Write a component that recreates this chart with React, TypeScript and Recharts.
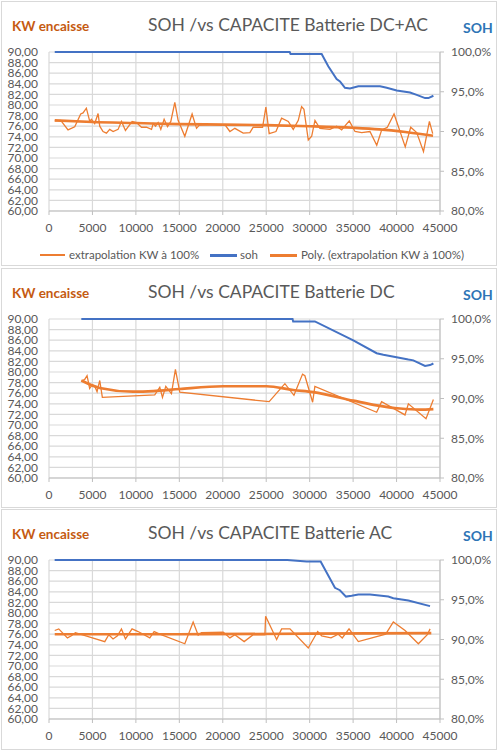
import React from 'react'
import { LineChart, Line, XAxis, YAxis, CartesianGrid } from 'recharts'

const xTicks = [0, 5000, 10000, 15000, 20000, 25000, 30000, 35000, 40000, 45000]
const kwTicks = [60, 62, 64, 66, 68, 70, 72, 74, 76, 78, 80, 82, 84, 86, 88, 90]
const sohTicks = [0.8, 0.85, 0.9, 0.95, 1]

// DC+AC
const dcacKwX = [660, 1350, 2190, 2960, 3650, 3920, 4300, 4690, 4880, 5260, 5650, 5840, 6220, 6610, 6990, 7380, 7950, 8340, 8800, 9570, 10070, 10640, 11220, 11800, 11990, 12260, 12560, 12870, 13250, 13640, 14020, 14480, 14860, 15630, 16470, 16980, 17300, 18500, 20240, 20820, 21390, 22350, 23120, 23500, 24580, 24960, 25340, 26120, 26770, 27540, 28110, 28690, 29070, 29340, 29840, 30230, 30610, 31180, 32340, 33100, 33680, 34560, 35220, 35990, 36940, 37720, 38290, 38940, 39710, 40320, 41000, 41630, 42320, 43100, 43780, 44160]
const dcacKwY = [77.0, 77.1, 75.3, 75.9, 78.3, 78.5, 79.4, 76.9, 77.3, 76.5, 78.4, 76.0, 75.0, 74.7, 75.4, 75.0, 75.4, 76.9, 75.2, 76.9, 76.7, 75.8, 75.8, 75.4, 76.5, 76.0, 76.7, 75.4, 77.3, 75.9, 76.9, 80.5, 77.1, 74.1, 78.3, 75.6, 76.2, 76.3, 76.3, 75.0, 75.6, 74.7, 74.8, 75.8, 75.8, 79.6, 74.6, 75.0, 77.5, 76.9, 75.4, 77.1, 79.7, 79.2, 73.4, 74.1, 77.1, 75.6, 75.4, 76.0, 75.3, 77.0, 75.0, 74.8, 75.0, 72.4, 75.3, 75.8, 78.3, 75.4, 72.1, 75.8, 74.8, 71.2, 76.9, 74.6]
const dcacTrendX = [660, 5000, 10000, 15000, 20000, 25000, 30000, 35000, 38000, 41000, 44200]
const dcacTrendY = [77.1, 76.8, 76.6, 76.4, 76.3, 76.2, 76.0, 75.7, 75.4, 74.9, 74.2]
const dcacSohX = [660, 27700, 27800, 31380, 32140, 33100, 33490, 34060, 34640, 35600, 38100, 38870, 40020, 41550, 42320, 43280, 43670, 44240]
const dcacSohY = [1.0, 1.0, 0.9975, 0.9975, 0.982, 0.966, 0.963, 0.955, 0.954, 0.957, 0.957, 0.955, 0.9515, 0.949, 0.946, 0.942, 0.942, 0.945]

// DC
const dcKwX = [3720, 4110, 4380, 4680, 4990, 5260, 5530, 5840, 6140, 12170, 12750, 13060, 13440, 14090, 14550, 15050, 25340, 27150, 28190, 29180, 29450, 30340, 30600, 37710, 38280, 40970, 41360, 43390, 44240]
const dcKwY = [78.2, 78.6, 79.3, 76.9, 77.6, 77.3, 76.3, 78.4, 75.2, 75.7, 77.1, 75.2, 77.3, 75.9, 80.5, 76.2, 74.4, 77.8, 75.6, 79.6, 79.3, 74.3, 77.3, 72.4, 74.4, 71.9, 74.0, 71.2, 74.8]
const dcTrendX = [3720, 5840, 9680, 12000, 15050, 20040, 25040, 28110, 30410, 35020, 37710, 40400, 42700, 44240]
const dcTrendY = [78.4, 77.0, 76.3, 76.4, 76.8, 77.3, 77.3, 76.6, 76.2, 74.6, 73.7, 73.1, 72.9, 73.0]
const dcSohX = [3720, 28030, 28100, 30600, 35020, 37710, 38480, 41360, 41930, 43280, 43850, 44240]
const dcSohY = [1.0, 1.0, 0.997, 0.997, 0.973, 0.957, 0.955, 0.949, 0.948, 0.941, 0.942, 0.944]

// AC
const acKwX = [660, 1120, 2120, 2580, 3040, 6420, 6880, 7370, 7880, 8340, 8800, 9560, 10250, 11600, 12100, 12750, 15630, 16590, 17170, 17550, 20050, 20820, 21390, 22460, 23500, 24850, 24930, 26200, 26770, 27730, 29840, 30920, 31380, 32450, 33290, 33750, 34530, 35600, 38750, 39630, 40980, 42510, 43540, 43860]
const acKwY = [76.7, 77.0, 75.3, 75.7, 76.3, 74.6, 75.9, 75.1, 75.7, 77.0, 75.1, 77.0, 76.5, 75.3, 76.5, 76.0, 74.2, 78.3, 75.8, 76.3, 76.4, 75.3, 75.9, 74.6, 75.9, 75.9, 79.4, 75.0, 77.0, 77.0, 73.4, 76.5, 75.7, 75.3, 76.0, 75.3, 77.0, 74.6, 76.0, 78.3, 76.7, 74.2, 75.9, 77.0]
const acTrendX = [660, 15000, 30000, 44000]
const acTrendY = [76.0, 76.0, 76.1, 76.2]
const acSohX = [650, 27420, 29650, 31260, 32910, 33480, 34180, 34830, 35600, 36940, 39050, 39630, 41360, 43850]
const acSohY = [1.0, 1.0, 0.998, 0.998, 0.965, 0.962, 0.954, 0.955, 0.9565, 0.9565, 0.954, 0.952, 0.949, 0.942]

const zip = (xs: number[], ys: number[]) => xs.map((x, i) => ({ x, y: ys[i] }))

const ORANGE = '#ED7D31'
const BLUE = '#4472C4'
const GRAY = '#595959'
const FONT = 'Lato, sans-serif'

const fmtKw = (v: number) => v.toFixed(2).replace('.', ',')
const fmtSoh = (v: number) => (v * 100).toFixed(1).replace('.', ',') + '%'

type PanelProps = {
  top: number
  height: number
  title: string
  kw: { x: number; y: number }[]
  trend: { x: number; y: number }[]
  soh: { x: number; y: number }[]
  legend?: boolean
}

function Panel({ top, height, title, kw, trend, soh, legend }: PanelProps) {
  const tick = { fill: GRAY, fontSize: 12, fontFamily: FONT }
  return (
    <div style={{ position: 'absolute', left: 0, top, width: 499, height }}>
      <div style={{ position: 'absolute', left: 1, top: 1, width: 496, height: height - 1, border: '1px solid #d9d9d9', boxSizing: 'border-box' }} />
      <div style={{ position: 'absolute', left: 12, top: 18, fontFamily: FONT, fontWeight: 700, fontSize: 13.5, color: '#C55A11', lineHeight: '16px' }}>KW encaisse</div>
      <div style={{ position: 'absolute', left: 148, top: 14, fontFamily: FONT, fontSize: 17.5, color: GRAY, lineHeight: '22px', whiteSpace: 'nowrap' }}>{title}</div>
      <div style={{ position: 'absolute', left: 463, top: 20, fontFamily: FONT, fontWeight: 700, fontSize: 14, color: '#2E75B6', lineHeight: '16px' }}>SOH</div>
      <div style={{ position: 'absolute', left: 0, top: 0 }}>
        <LineChart width={499} height={height} margin={{ top: 52, right: 0, left: 0, bottom: height - 211 - 25 }}>
          <CartesianGrid yAxisId="kw" stroke="#d9d9d9" strokeWidth={1.2} />
          <XAxis type="number" dataKey="x" domain={[0, 45000]} ticks={xTicks} height={25} tick={tick}
            axisLine={{ stroke: '#bfbfbf' }} tickLine={{ stroke: '#bfbfbf' }} tickSize={4} tickMargin={8} interval={0} />
          <YAxis yAxisId="kw" orientation="left" domain={[60, 90]} ticks={kwTicks} width={49} tick={tick}
            tickFormatter={fmtKw} axisLine={false} tickLine={false} tickSize={6} tickMargin={5} interval={0} />
          <YAxis yAxisId="soh" orientation="right" domain={[0.8, 1]} ticks={sohTicks} width={59} tick={tick}
            tickFormatter={fmtSoh} axisLine={{ stroke: '#bfbfbf' }} tickLine={{ stroke: '#bfbfbf' }} tickSize={4} tickMargin={7} interval={0} />
          <Line yAxisId="kw" data={kw} dataKey="y" type="linear" stroke={ORANGE} strokeWidth={1.3} dot={false} activeDot={false} isAnimationActive={false} />
          <Line yAxisId="kw" data={trend} dataKey="y" type="monotone" stroke={ORANGE} strokeWidth={2.6} dot={false} activeDot={false} isAnimationActive={false} />
          <Line yAxisId="soh" data={soh} dataKey="y" type="linear" stroke={BLUE} strokeWidth={2} dot={false} activeDot={false} isAnimationActive={false} />
        </LineChart>
      </div>
      {legend && (
        <div style={{ position: 'absolute', left: 0, top: 248, width: 499, height: 14, fontFamily: FONT, fontSize: 11.5, color: GRAY, lineHeight: '14px' }}>
          <div style={{ position: 'absolute', left: 40, top: 6, width: 25, height: 1.5, background: ORANGE }} />
          <div style={{ position: 'absolute', left: 69, top: 0, whiteSpace: 'nowrap' }}>extrapolation KW à 100%</div>
          <div style={{ position: 'absolute', left: 210, top: 6, width: 27, height: 2.5, background: BLUE }} />
          <div style={{ position: 'absolute', left: 240, top: 0 }}>soh</div>
          <div style={{ position: 'absolute', left: 270, top: 6, width: 27, height: 2.5, background: ORANGE }} />
          <div style={{ position: 'absolute', left: 301, top: 0, whiteSpace: 'nowrap' }}>Poly. (extrapolation KW à 100%)</div>
        </div>
      )}
    </div>
  )
}

export default function App() {
  return (
    <div style={{ position: 'absolute', left: 0, top: 0, width: 499, height: 750, background: '#fff', overflow: 'hidden' }}>
      <Panel top={0} height={266} title="SOH /vs CAPACITE Batterie DC+AC"
        kw={zip(dcacKwX, dcacKwY)} trend={zip(dcacTrendX, dcacTrendY)} soh={zip(dcacSohX, dcacSohY)} legend />
      <Panel top={267} height={241} title="SOH /vs CAPACITE Batterie DC"
        kw={zip(dcKwX, dcKwY)} trend={zip(dcTrendX, dcTrendY)} soh={zip(dcSohX, dcSohY)} />
      <Panel top={508} height={242} title="SOH /vs CAPACITE Batterie AC"
        kw={zip(acKwX, acKwY)} trend={zip(acTrendX, acTrendY)} soh={zip(acSohX, acSohY)} />
    </div>
  )
}
